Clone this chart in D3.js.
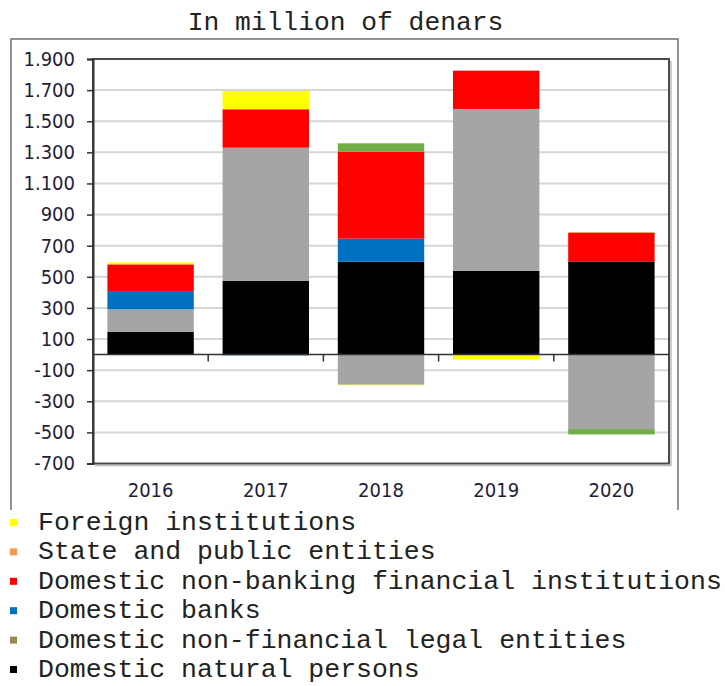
<!DOCTYPE html>
<html>
<head>
<meta charset="utf-8">
<script src="https://cdn.jsdelivr.net/npm/d3@7"></script>
<style>
  html, body { margin: 0; padding: 0; background: #ffffff; }
  svg { display: block; }
</style>
</head>
<body>
<svg id="chart" width="725" height="686"></svg>
<script>
// Net purchases by holder group, in million of denars
const years = ["2016", "2017", "2018", "2019", "2020"];

const naturalPersons   = [147, 475, 597, 539, 599];
const nonFinLegal      = [144, 855, -194, 1040, -479];
const domesticBanks    = [117, -5, 148, 0, 0];
const nonBankFinancial = [172, 247, 559, 246, 184];
const statePublic      = [0, 0, 0, 0, 5];
const otherHolders     = [0, 0, 54, 0, -34];
const foreignInst      = [13, 118, -3, -32, 0];

const yTicks = [-700, -500, -300, -100, 100, 300, 500, 700, 900, 1100, 1300, 1500, 1700, 1900];

// stacking order, bottom to top
const seriesKeys = ["natural", "nonFinLegal", "banks", "nonBank", "state", "other", "foreign"];
const barColors  = ["#000000", "#a5a5a5", "#0070c0", "#ff0000", "#f79646", "#70ad47", "#ffff00"];

const legendLabels = [
  "Foreign institutions",
  "State and public entities",
  "Domestic non-banking financial institutions",
  "Domestic banks",
  "Domestic non-financial legal entities",
  "Domestic natural persons"
];
const legendColors = ["#ffff00", "#f79646", "#ff0000", "#0070c0", "#948a54", "#000000"];

const rows = years.map((y, i) => ({
  year: y,
  natural: naturalPersons[i],
  nonFinLegal: nonFinLegal[i],
  banks: domesticBanks[i],
  nonBank: nonBankFinancial[i],
  state: statePublic[i],
  other: otherHolders[i],
  foreign: foreignInst[i]
}));

const svg = d3.select("#chart");

const plot = { left: 93, right: 669, top: 59, bottom: 463.5 };
const monoFont = "'Liberation Mono', 'Courier New', monospace";
const axisFont = "'DejaVu Sans Condensed', 'DejaVu Sans', sans-serif";

const x = d3.scaleBand()
  .domain(years)
  .range([plot.left, plot.right])
  .paddingInner(0.25)
  .paddingOuter(0.125);

const y = d3.scaleLinear()
  .domain([-700, 1900])
  .range([plot.bottom, plot.top]);

const locale = d3.formatLocale({
  decimal: ",", thousands: ".", grouping: [3], currency: ["", ""], minus: "-"
});
const fmt = locale.format(",");

// title
svg.append("text")
  .attr("x", 345.5)
  .attr("y", 30)
  .attr("text-anchor", "middle")
  .attr("font-family", monoFont)
  .attr("font-size", 26.3)
  .attr("fill", "#222")
  .text("In million of denars");

// outer chart frame (open at the bottom, where the legend sits)
svg.append("path")
  .attr("d", "M11,510 L11,39 L678,39 L678,510")
  .attr("fill", "none")
  .attr("stroke", "#6f6f6f")
  .attr("stroke-width", 1.5);

// horizontal gridlines
svg.append("g")
  .selectAll("line")
  .data(yTicks.filter(v => v > -700 && v < 1900))
  .join("line")
  .attr("x1", plot.left)
  .attr("x2", plot.right)
  .attr("y1", d => y(d))
  .attr("y2", d => y(d))
  .attr("stroke", "#d6d6d6")
  .attr("stroke-width", 2);

// stacked bars
const stack = d3.stack()
  .keys(seriesKeys)
  .offset(d3.stackOffsetDiverging);
const layers = stack(rows);

svg.append("g")
  .selectAll("g")
  .data(layers)
  .join("g")
  .attr("fill", (d, i) => barColors[i])
  .selectAll("rect")
  .data(d => d.filter(p => p[1] !== p[0]))
  .join("rect")
  .attr("x", d => x(d.data.year))
  .attr("width", x.bandwidth())
  .attr("y", d => y(Math.max(d[0], d[1])))
  .attr("height", d => Math.abs(y(d[0]) - y(d[1])));

// plot area frame with a soft shadow on the right and bottom
svg.append("path")
  .attr("d", `M${plot.right + 2},${plot.top + 2} L${plot.right + 2},${plot.bottom + 2} L${plot.left + 2},${plot.bottom + 2}`)
  .attr("fill", "none")
  .attr("stroke", "#bdbdbd")
  .attr("stroke-width", 1.5);
svg.append("rect")
  .attr("x", plot.left)
  .attr("y", plot.top)
  .attr("width", plot.right - plot.left)
  .attr("height", plot.bottom - plot.top)
  .attr("fill", "none")
  .attr("stroke", "#4a4a4a")
  .attr("stroke-width", 2);

// value axis
const yAxis = svg.append("g")
  .attr("transform", `translate(${plot.left},0)`)
  .call(d3.axisLeft(y).tickValues(yTicks).tickFormat(fmt).tickSize(6).tickPadding(12));
yAxis.select(".domain").attr("stroke", "#333").attr("stroke-width", 2);
yAxis.selectAll(".tick line").attr("stroke", "#333").attr("stroke-width", 1.5);
yAxis.selectAll(".tick text")
  .attr("font-family", axisFont)
  .attr("font-stretch", "condensed")
  .attr("font-size", 20)
  .attr("fill", "#1e1e3c");

// category axis along zero, with ticks between categories
svg.append("line")
  .attr("x1", plot.left)
  .attr("x2", plot.right)
  .attr("y1", y(0))
  .attr("y2", y(0))
  .attr("stroke", "#333")
  .attr("stroke-width", 1.5);

const step = x.step();
svg.append("g")
  .selectAll("line")
  .data(years.slice(1))
  .join("line")
  .attr("x1", d => x(d) - (step - x.bandwidth()) / 2)
  .attr("x2", d => x(d) - (step - x.bandwidth()) / 2)
  .attr("y1", y(0))
  .attr("y2", y(0) + 7)
  .attr("stroke", "#333")
  .attr("stroke-width", 1.5);

// category labels below the plot
svg.append("g")
  .selectAll("text")
  .data(years)
  .join("text")
  .attr("x", d => x(d) + x.bandwidth() / 2)
  .attr("y", 497)
  .attr("text-anchor", "middle")
  .attr("font-family", axisFont)
  .attr("font-stretch", "condensed")
  .attr("font-size", 20)
  .attr("fill", "#1e1e3c")
  .text(d => d);

// legend
const legend = svg.append("g");
const legendRow = legend.selectAll("g")
  .data(legendLabels)
  .join("g")
  .attr("transform", (d, i) => `translate(0,${530 + i * 29.4})`);
legendRow.append("rect")
  .attr("x", 10)
  .attr("y", -11)
  .attr("width", 7)
  .attr("height", 7)
  .attr("fill", (d, i) => legendColors[i]);
legendRow.append("text")
  .attr("x", 38)
  .attr("y", 0)
  .attr("font-family", monoFont)
  .attr("font-size", 26.5)
  .attr("fill", "#222")
  .text(d => d);
</script>
</body>
</html>
